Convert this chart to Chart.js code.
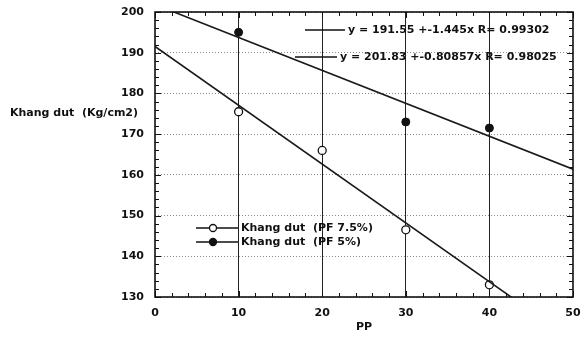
<!DOCTYPE html>
<html>
<head>
<meta charset="utf-8">
<script src="https://cdn.jsdelivr.net/npm/chart.js@4"></script>
<style>
  html, body { margin: 0; padding: 0; background: #fff; }
  #wrap { width: 583px; height: 340px; position: relative; }
</style>
</head>
<body>
<div id="wrap"><canvas id="myChart"></canvas></div>
<script>
// Data
const ppOpen = [10, 20, 30, 40];
const kdOpen = [175.5, 166, 146.5, 133];       // Khang dut (PF 7.5%)
const ppFilled = [10, 30, 40];
const kdFilled = [195, 173, 171.5];            // Khang dut (PF 5%)
const fitX = [0, 50];
const fitOpenY = [191.55, 119.3];               // y = 191.55 + -1.445x
const fitFilledY = [201.83, 161.4];             // y = 201.83 + -0.80857x
const xTicks = [0, 10, 20, 30, 40, 50];
const yTicks = [130, 140, 150, 160, 170, 180, 190, 200];
const eqLabels = ['y = 191.55 +-1.445x R= 0.99302', 'y = 201.83 +-0.80857x R= 0.98025'];
const legendLabels = ['Khang dut  (PF 7.5%)', 'Khang dut  (PF 5%)'];
const yTitle = 'Khang dut  (Kg/cm2)';
const xTitle = 'PP';

const FONT = "'DejaVu Sans', sans-serif";
const pts = (xs, ys) => xs.map((x, i) => ({ x: x, y: ys[i] }));

// frame, minor ticks, y title, equation labels and legend drawn inside the plot
const decor = {
    id: 'decor',
    afterDatasetsDraw(chart) {
        const { ctx, chartArea: a, scales: { x, y } } = chart;
        ctx.save();
        ctx.strokeStyle = '#111';
        ctx.lineWidth = 1;
        // inward ticks
        for (let v = 0; v <= 50; v += 2) {
            const px = Math.round(x.getPixelForValue(v)) + 0.5;
            const len = v % 10 === 0 ? 6 : 4;
            ctx.beginPath();
            ctx.moveTo(px, a.bottom); ctx.lineTo(px, a.bottom - len);
            ctx.moveTo(px, a.top); ctx.lineTo(px, a.top + len);
            ctx.stroke();
        }
        for (let v = 130; v <= 200; v += 2) {
            const py = Math.round(y.getPixelForValue(v)) + 0.5;
            const len = v % 10 === 0 ? 6 : 4;
            ctx.beginPath();
            ctx.moveTo(a.left, py); ctx.lineTo(a.left + len, py);
            ctx.moveTo(a.right, py); ctx.lineTo(a.right - len, py);
            ctx.stroke();
        }
        // frame
        ctx.lineWidth = 1.6;
        ctx.strokeRect(a.left, a.top, a.right - a.left, a.bottom - a.top);

        ctx.fillStyle = '#111';
        ctx.font = 'bold 11px ' + FONT;
        ctx.textBaseline = 'middle';
        ctx.textAlign = 'left';
        ctx.fillText(yTitle, 10, 113);

        // equation labels
        ctx.lineWidth = 1.3;
        const eq = [[305, 345, 30], [295, 337, 57]];
        eq.forEach((e, i) => {
            ctx.beginPath();
            ctx.moveTo(e[0], e[2]); ctx.lineTo(e[1], e[2]);
            ctx.stroke();
            ctx.fillText(eqLabels[i], e[1] + 3, e[2]);
        });

        // legend
        const lg = [228, 242];
        lg.forEach((ly, i) => {
            ctx.beginPath();
            ctx.moveTo(196, ly); ctx.lineTo(238, ly);
            ctx.stroke();
            ctx.beginPath();
            ctx.arc(213, ly, 3.5, 0, Math.PI * 2);
            ctx.fillStyle = i === 0 ? '#fff' : '#111';
            ctx.fill();
            ctx.stroke();
            ctx.fillStyle = '#111';
            ctx.fillText(legendLabels[i], 241, ly);
        });
        ctx.restore();
    }
};

let ctx = document.getElementById('myChart').getContext('2d');
let myChart = new Chart(ctx, {
    type: 'scatter',
    data: {
        datasets: [
            {
                label: 'fit open',
                data: pts(fitX, fitOpenY),
                showLine: true,
                borderColor: '#1a1a1a',
                borderWidth: 1.6,
                pointRadius: 0
            },
            {
                label: 'fit filled',
                data: pts(fitX, fitFilledY),
                showLine: true,
                borderColor: '#1a1a1a',
                borderWidth: 1.6,
                pointRadius: 0
            },
            {
                label: legendLabels[0],
                data: pts(ppOpen, kdOpen),
                pointRadius: 4,
                pointBackgroundColor: '#fff',
                pointBorderColor: '#111',
                pointBorderWidth: 1.3
            },
            {
                label: legendLabels[1],
                data: pts(ppFilled, kdFilled),
                pointRadius: 4,
                pointBackgroundColor: '#111',
                pointBorderColor: '#111',
                pointBorderWidth: 1
            }
        ]
    },
    options: {
        responsive: true,
        maintainAspectRatio: false,
        animation: false,
        layout: { padding: { top: 12, right: 10, left: 0, bottom: 0 } },
        plugins: { legend: { display: false }, tooltip: { enabled: false } },
        scales: {
            x: {
                type: 'linear',
                min: 0,
                max: 50,
                afterBuildTicks: axis => { axis.ticks = xTicks.map(v => ({ value: v })); },
                afterFit: axis => {
                    axis.height = 43;
                    axis.paddingLeft = 0;
                    axis.paddingRight = 0;
                },
                ticks: {
                    padding: 10,
                    color: '#111',
                    font: { family: FONT, size: 11, weight: 'bold' }
                },
                grid: {
                    color: ctx => (ctx.tick && ctx.tick.value > 0 && ctx.tick.value < 50) ? '#222' : 'rgba(0,0,0,0)',
                    lineWidth: 1,
                    drawTicks: false
                },
                border: { display: false },
                title: {
                    display: true,
                    text: xTitle,
                    color: '#111',
                    padding: { top: 0, bottom: 6 },
                    font: { family: FONT, size: 11, weight: 'bold' }
                }
            },
            y: {
                type: 'linear',
                min: 130,
                max: 200,
                afterBuildTicks: axis => { axis.ticks = yTicks.map(v => ({ value: v })); },
                afterFit: axis => {
                    axis.width = 155;
                    axis.paddingTop = 0;
                    axis.paddingBottom = 0;
                },
                ticks: {
                    padding: 11,
                    color: '#111',
                    font: { family: FONT, size: 11, weight: 'bold' }
                },
                grid: {
                    color: '#8a8a8a',
                    lineWidth: 1,
                    drawTicks: false
                },
                border: { display: false, dash: [1, 2] }
            }
        }
    },
    plugins: [decor]
});
</script>
</body>
</html>
